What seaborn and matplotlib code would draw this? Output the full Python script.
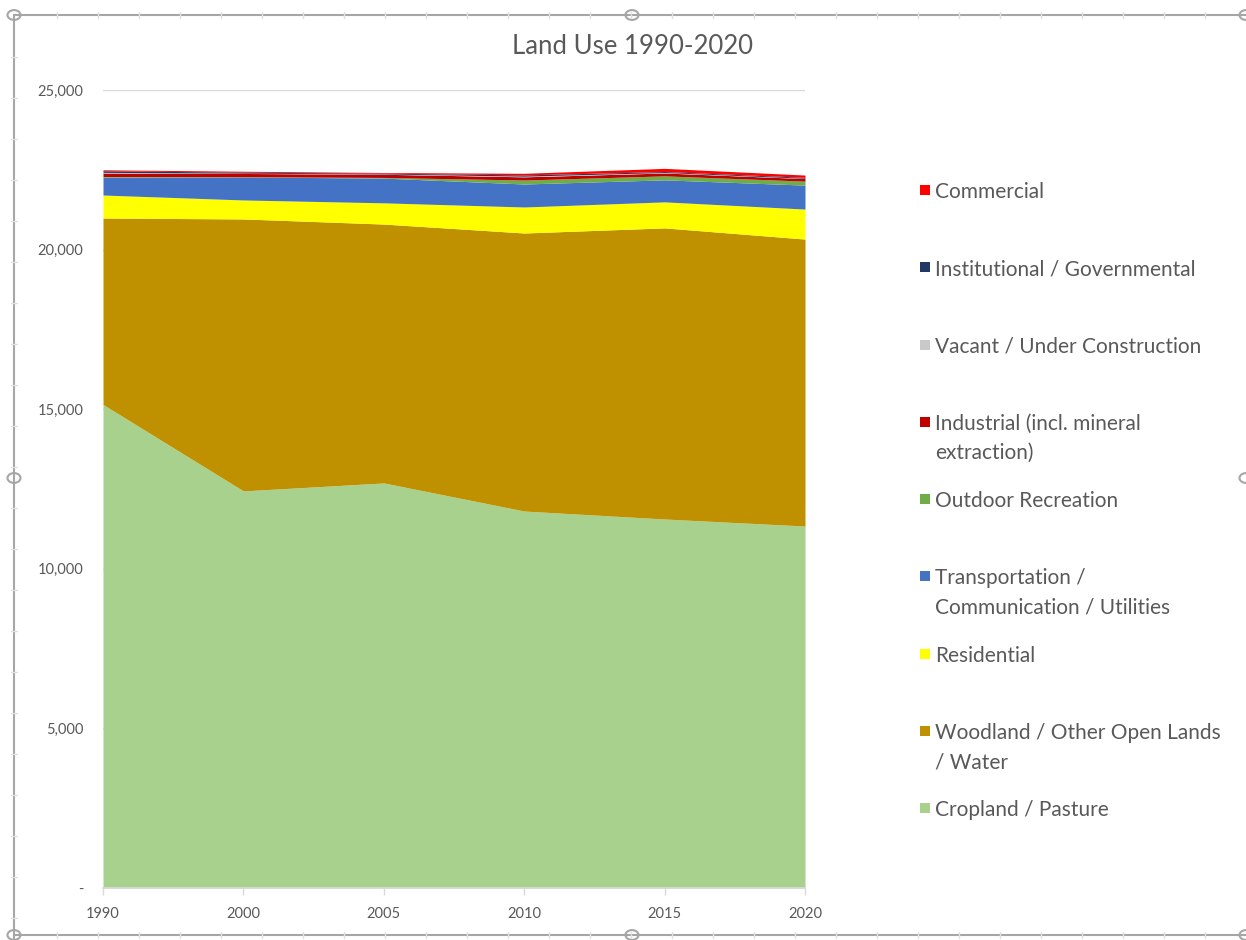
import matplotlib
matplotlib.use("Agg")
import matplotlib.pyplot as plt
import seaborn as sns
from matplotlib.patches import Rectangle, Circle
from matplotlib.lines import Line2D
from matplotlib.ticker import FuncFormatter

# Land use by category (acres), stacked bottom to top
years = ["1990", "2000", "2005", "2010", "2015", "2020"]
cropland = [15150, 12440, 12690, 11810, 11560, 11340]
woodland = [5840, 8520, 8110, 8710, 9120, 8990]
residential = [720, 595, 665, 815, 815, 940]
transportation = [560, 720, 775, 720, 690, 750]
outdoor_recreation = [20, 10, 20, 125, 125, 125]
industrial = [110, 100, 100, 100, 90, 80]
vacant = [20, 10, 10, 20, 15, 10]
institutional = [50, 30, 25, 40, 30, 30]
commercial = [30, 30, 20, 50, 100, 70]

series_labels = [
    "Cropland / Pasture",
    "Woodland / Other Open Lands\n/ Water",
    "Residential",
    "Transportation /\nCommunication / Utilities",
    "Outdoor Recreation",
    "Industrial (incl. mineral\nextraction)",
    "Vacant / Under Construction",
    "Institutional / Governmental",
    "Commercial",
]
series_values = [cropland, woodland, residential, transportation,
                 outdoor_recreation, industrial, vacant, institutional, commercial]
series_colors = ["#A9D18E", "#BF9000", "#FFFF00", "#4472C4", "#70AD47",
                 "#C00000", "#C9C9C9", "#1F3864", "#FF0000"]

sns.set_theme(style="white")
plt.rcParams["font.family"] = ["Lato", "DejaVu Sans"]
TEXT = "#595959"

W, H = 1246, 940
fig = plt.figure(figsize=(W / 100, H / 100), dpi=100)
fig.patch.set_facecolor("white")

def fx(x):
    return x / W

def fy(y):
    return 1 - y / H

ax = fig.add_axes([fx(103), fy(888), fx(805) - fx(103), fy(90) - fy(888)])
xs = list(range(len(years)))
ax.stackplot(xs, *series_values, colors=series_colors, linewidth=0, zorder=2)

ax.set_xlim(0, len(years) - 1)
ax.set_ylim(0, 25000)
ax.set_yticks(range(0, 25001, 5000))
ax.yaxis.set_major_formatter(FuncFormatter(lambda v, p: "-" if v == 0 else f"{int(v):,}"))
ax.set_xticks(xs)
ax.set_xticklabels(years)
ax.grid(axis="y", color="#D9D9D9", linewidth=1, zorder=0)
ax.grid(axis="x", visible=False)
for s in ["top", "right", "left"]:
    ax.spines[s].set_visible(False)
ax.spines["bottom"].set_color("#D9D9D9")
ax.tick_params(axis="y", length=0, pad=14, labelsize=10.5, labelcolor=TEXT)
ax.tick_params(axis="x", length=5, width=1, color="#D9D9D9", pad=9,
               labelsize=10.5, labelcolor=TEXT, bottom=True)
ax.set_facecolor("white")

fig.text(fx(632), fy(47), "Land Use 1990-2020", ha="center", va="center",
         fontsize=18.5, color=TEXT)

# Legend, listed top-down in reverse stacking order
legend_x = 920
for i, k in enumerate(range(len(series_labels) - 1, -1, -1)):
    y0 = 190 + i * 77.25
    fig.add_artist(Rectangle((fx(legend_x), fy(y0 + 5)), fx(10), fy(0) - fy(10),
                             transform=fig.transFigure, facecolor=series_colors[k],
                             edgecolor="none"))
    fig.text(fx(legend_x + 15), fy(y0 - 8), series_labels[k], ha="left", va="top",
             fontsize=15, color=TEXT, linespacing=1.6)

# Chart frame with selection handles
frame_col = "#A6A6A6"
fig.add_artist(Line2D([fx(14), fx(1246)], [fy(15), fy(15)], transform=fig.transFigure,
                      color=frame_col, linewidth=1.5))
fig.add_artist(Line2D([fx(14), fx(1246)], [fy(935), fy(935)], transform=fig.transFigure,
                      color=frame_col, linewidth=1.5))
fig.add_artist(Line2D([fx(14), fx(14)], [fy(15), fy(940)], transform=fig.transFigure,
                      color=frame_col, linewidth=1.5))
for x in range(57, 1246, 41):
    for yy in (15, 935):
        fig.add_artist(Line2D([fx(x), fx(x)], [fy(yy - 3), fy(yy + 3)],
                              transform=fig.transFigure, color="#E0E0E0", linewidth=1))
for y in range(57, 935, 41):
    fig.add_artist(Line2D([fx(11), fx(17)], [fy(y), fy(y)],
                          transform=fig.transFigure, color="#E0E0E0", linewidth=1))
for hx, hy in [(14, 15), (632, 15), (1246, 15), (14, 478), (1246, 478),
               (14, 935), (632, 935), (1246, 935)]:
    fig.add_artist(Circle((fx(hx), fy(hy)), 6.5 / W, transform=fig.transFigure,
                          facecolor="white", edgecolor=frame_col, linewidth=1.5))

fig.savefig("out.png", dpi=100, facecolor="white")
